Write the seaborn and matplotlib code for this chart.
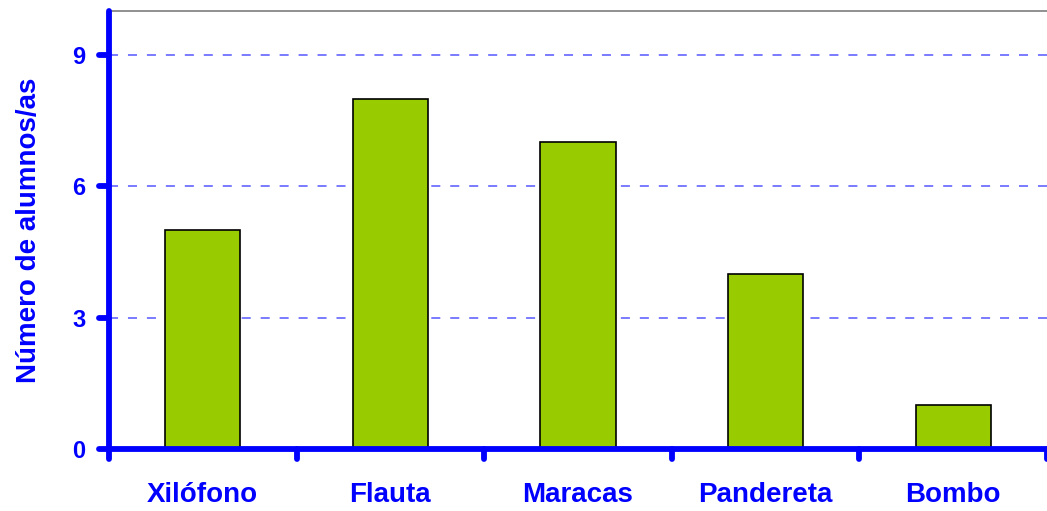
import matplotlib
matplotlib.use("Agg")
import matplotlib.pyplot as plt
from matplotlib.markers import MarkerStyle
import seaborn as sns

# Data
instrumentos = ["Xilófono", "Flauta", "Maracas", "Pandereta", "Bombo"]
alumnos = [5, 8, 7, 4, 1]
y_ticks = [0, 3, 6, 9]

sns.set_style("white")
plt.rcParams['font.family'] = ['Liberation Sans', 'DejaVu Sans']

azul = "#0000ff"

fig = plt.figure(figsize=(10.47, 5.11), dpi=100)
ax = fig.add_axes([0.1041, 0.1213, 0.8959, 0.8572])

sns.barplot(x=instrumentos, y=alumnos, color="#99cc00", edgecolor="black",
            linewidth=1.2, width=0.4, saturation=1, ax=ax, zorder=3)

ax.set_xlim(-0.5, len(instrumentos) - 0.5)
ax.set_ylim(0, 10)
ax.set_yticks(y_ticks)
ax.set_xticks([i - 0.5 for i in range(len(instrumentos) + 1)], minor=True)

# dashed gridlines
for v in y_ticks[1:]:
    ax.axhline(v, color="#6f6fff", linestyle=(0, (5, 5.5)), linewidth=1.3, zorder=1)

for side in ["left", "bottom"]:
    ax.spines[side].set_color(azul)
    ax.spines[side].set_linewidth(4.2)
    ax.spines[side].set_capstyle("round")
    ax.spines[side].set_zorder(4)
ax.spines["top"].set_color("#888888")
ax.spines["top"].set_linewidth(1.3)
ax.spines["right"].set_visible(False)

ax.tick_params(axis="x", which="major", bottom=False, length=0, pad=24,
               labelsize=20, labelcolor=azul)
ax.tick_params(axis="x", which="minor", bottom=True, length=7, width=4.2,
               color=azul, direction="out")
ax.tick_params(axis="y", left=True, length=7, width=4.2, color=azul,
               direction="out", pad=10, labelsize=17, labelcolor=azul)
for t in ax.get_xticklabels() + ax.get_yticklabels():
    t.set_fontweight("bold")
for tl in ax.xaxis.get_minorticklines() + ax.yaxis.get_majorticklines():
    m = tl.get_marker()
    tl.set_marker(MarkerStyle(m, capstyle="round"))
    tl.set_clip_on(False)

ax.set_ylabel("Número de alumnos/as", fontsize=20, fontweight="bold",
              color=azul, labelpad=22)
ax.set_xlabel("")

fig.savefig("out.png", dpi=100)
